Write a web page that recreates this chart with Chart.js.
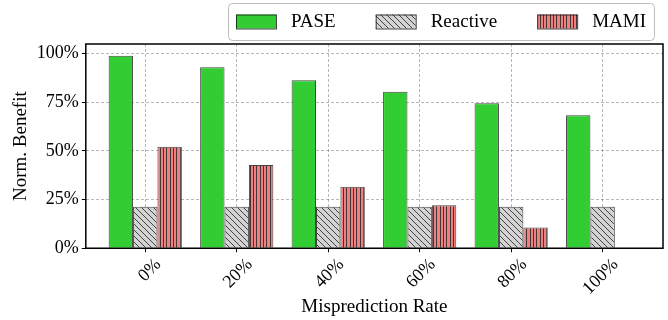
<!DOCTYPE html>
<html>
<head>
<meta charset="utf-8">
<script src="https://cdn.jsdelivr.net/npm/chart.js@4"></script>
<style>
  html, body { margin: 0; padding: 0; background: #fff; }
  #wrap { width: 668px; height: 320px; }
</style>
</head>
<body>
<div id="wrap"><canvas id="benefitChart"></canvas></div>
<script>
// Data
const categories = ['0%', '20%', '40%', '60%', '80%', '100%'];
const paseValues = [99, 93.1, 86.4, 80.5, 74.6, 68.4];
const reactiveValues = [21.3, 21.3, 21.3, 21.3, 21.3, 21.3];
const mamiValues = [52.2, 42.8, 31.6, 22.1, 10.6, 0];
const yTicks = [0, 25, 50, 75, 100];

const serif = "'Liberation Serif', 'Times New Roman', serif";

// hatch patterns like matplotlib's '\\' and '|||'
function makePattern(size, bg, draw) {
    const c = document.createElement('canvas');
    c.width = size; c.height = size;
    const g = c.getContext('2d');
    g.fillStyle = bg;
    g.fillRect(0, 0, size, size);
    g.strokeStyle = 'rgba(40,40,40,0.85)';
    g.lineWidth = 1;
    draw(g, size);
    return g.createPattern(c, 'repeat');
}

const diagHatch = makePattern(6, '#d3d3d3', (g, s) => {
    g.beginPath();
    g.moveTo(-1, -1); g.lineTo(s + 1, s + 1);
    g.moveTo(-1, s - 1); g.lineTo(1, s + 1);
    g.moveTo(s - 1, -1); g.lineTo(s + 1, 1);
    g.stroke();
});

const vertHatch = makePattern(10, '#f08080', (g, s) => {
    g.beginPath();
    [0.5, 3.5, 6.5].forEach(x => { g.moveTo(x, 0); g.lineTo(x, s); });
    g.stroke();
});

const colors = {
    pase: '#32cd32',
    reactive: diagHatch,
    mami: vertHatch,
    edge: 'rgba(20,20,20,0.8)',
    grid: 'rgba(0,0,0,0.28)'
};

const toPoints = arr => arr.map((v, i) => ({ x: i, y: v }));

// frame around the plot area (top/right spines too)
const frame = {
    id: 'frame',
    afterDatasetsDraw(chart) {
        const { ctx, chartArea: a } = chart;
        ctx.save();
        ctx.strokeStyle = '#000';
        ctx.lineWidth = 1.5;
        ctx.strokeRect(a.left, a.top, a.right - a.left, a.bottom - a.top);
        ctx.restore();
    }
};

// boxed legend, matplotlib style
const boxLegend = {
    id: 'boxLegend',
    afterDraw(chart, args, opts) {
        const { ctx, chartArea: a } = chart;
        ctx.save();
        ctx.font = opts.font;
        const items = chart.data.datasets.map(ds => ({
            label: ds.label,
            fill: ds.backgroundColor,
            w: ctx.measureText(ds.label).width
        }));
        let inner = opts.colGap * (items.length - 1);
        items.forEach(it => { inner += opts.patchW + opts.textGap + it.w; });
        const right = a.right - opts.inset;
        const left = right - inner - 2 * opts.pad;
        const top = opts.top;
        const h = opts.height;

        ctx.beginPath();
        ctx.roundRect(left + 0.5, top + 0.5, right - left, h, 4);
        ctx.fillStyle = '#fff';
        ctx.fill();
        ctx.strokeStyle = '#bdbdbd';
        ctx.lineWidth = 1;
        ctx.stroke();

        const cy = top + h / 2;
        let x = left + opts.pad;
        ctx.textBaseline = 'middle';
        ctx.textAlign = 'left';
        items.forEach(it => {
            ctx.fillStyle = it.fill;
            ctx.fillRect(x, cy - opts.patchH / 2, opts.patchW, opts.patchH);
            ctx.strokeStyle = colors.edge;
            ctx.strokeRect(x + 0.5, cy - opts.patchH / 2 + 0.5, opts.patchW, opts.patchH);
            x += opts.patchW + opts.textGap;
            ctx.fillStyle = '#000';
            ctx.fillText(it.label, x, cy + 1);
            x += it.w + opts.colGap;
        });
        ctx.restore();
    }
};

const ctx = document.getElementById('benefitChart').getContext('2d');
new Chart(ctx, {
    type: 'bar',
    data: {
        datasets: [{
            label: 'PASE',
            data: toPoints(paseValues),
            backgroundColor: colors.pase,
            borderColor: colors.edge,
            borderWidth: 1
        }, {
            label: 'Reactive',
            data: toPoints(reactiveValues),
            backgroundColor: colors.reactive,
            borderColor: colors.edge,
            borderWidth: 1
        }, {
            label: 'MAMI',
            data: toPoints(mamiValues),
            backgroundColor: colors.mami,
            borderColor: colors.edge,
            borderWidth: 1
        }]
    },
    options: {
        responsive: true,
        maintainAspectRatio: false,
        animation: false,
        categoryPercentage: 0.8,
        barPercentage: 1.0,
        layout: {
            padding: { top: 44, left: 1, right: 5, bottom: 0 }
        },
        plugins: {
            legend: { display: false },
            tooltip: { enabled: false },
            boxLegend: {
                font: '19px ' + serif,
                patchW: 40,
                patchH: 14,
                textGap: 15,
                colGap: 40,
                pad: 8,
                inset: 9,
                top: 3,
                height: 37
            }
        },
        scales: {
            x: {
                type: 'linear',
                min: -0.65,
                max: 5.66,
                offset: false,
                afterBuildTicks: scale => {
                    scale.ticks = categories.map((_, i) => ({ value: i }));
                },
                grid: {
                    offset: false,
                    color: colors.grid,
                    tickColor: '#000',
                    tickLength: 4,
                    tickBorderDash: []
                },
                border: { display: false, dash: [3, 2] },
                ticks: {
                    color: '#000',
                    font: { family: serif, size: 18 },
                    minRotation: 45,
                    maxRotation: 45,
                    labelOffset: 13,
                    padding: 2,
                    callback: v => categories[v]
                },
                title: {
                    display: true,
                    text: 'Misprediction Rate',
                    color: '#000',
                    font: { family: serif, size: 19 },
                    padding: { top: -6, bottom: 2 }
                }
            },
            y: {
                min: 0,
                max: 105,
                afterBuildTicks: scale => {
                    scale.ticks = yTicks.map(v => ({ value: v }));
                },
                grid: {
                    color: colors.grid,
                    tickColor: '#000',
                    tickLength: 4,
                    tickBorderDash: []
                },
                border: { display: false, dash: [3, 2] },
                ticks: {
                    color: '#000',
                    font: { family: serif, size: 18 },
                    padding: 3,
                    callback: v => v + '%'
                },
                title: {
                    display: true,
                    text: 'Norm. Benefit',
                    color: '#000',
                    font: { family: serif, size: 19 },
                    padding: { top: 9, bottom: 1 }
                }
            }
        }
    },
    plugins: [frame, boxLegend]
});
</script>
</body>
</html>
